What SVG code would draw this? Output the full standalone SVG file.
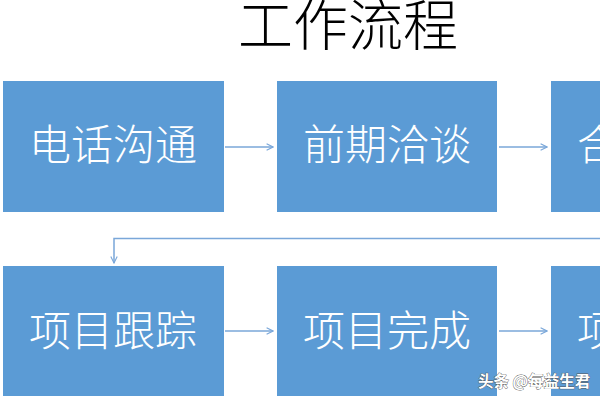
<svg xmlns="http://www.w3.org/2000/svg" width="600" height="400" viewBox="0 0 600 400">
<style>
.box{fill:#5B9BD5;}
.lbl{font-family:"Noto Sans CJK SC","Noto Sans",sans-serif;font-size:42px;font-weight:300;fill:#ffffff;}
.title{font-family:"Noto Sans CJK SC","Noto Sans",sans-serif;font-size:55px;font-weight:300;fill:#000000;}
.conn{fill:none;stroke:#7AA7D9;stroke-width:1.5;}
.wm{font-family:"Noto Sans CJK SC","Noto Sans",sans-serif;font-size:15.5px;font-weight:700;fill:#ffffff;stroke:#555555;stroke-width:0.8;paint-order:stroke;}
</style>
<defs>
<marker id="arr" viewBox="0 0 10 10" refX="9" refY="5" markerWidth="8" markerHeight="8" markerUnits="userSpaceOnUse" orient="auto">
<polyline points="1,1 9,5 1,9" fill="none" stroke="#7AA7D9" stroke-width="1.4"/>
</marker>
</defs>
<rect width="600" height="400" fill="#ffffff"/>
<text class="title" x="348" y="45" text-anchor="middle">工作流程</text>
<g id="n1"><rect class="box" x="3" y="81" width="221" height="131"/><text class="lbl" x="113" y="160" text-anchor="middle">电话沟通</text></g>
<g id="n2"><rect class="box" x="277" y="81" width="220" height="131"/><text class="lbl" x="387" y="160" text-anchor="middle">前期洽谈</text></g>
<g id="n3"><rect class="box" x="551" y="81" width="220" height="131"/><text class="lbl" x="577" y="160">合</text></g>
<g id="n4"><rect class="box" x="3" y="266" width="221" height="130"/><text class="lbl" x="113" y="346" text-anchor="middle">项目跟踪</text></g>
<g id="n5"><rect class="box" x="277" y="266" width="220" height="130"/><text class="lbl" x="387" y="346" text-anchor="middle">项目完成</text></g>
<g id="n6"><rect class="box" x="551" y="266" width="220" height="130"/><text class="lbl" x="577" y="346">项</text></g>
<g id="connectors">
<line class="conn" x1="225" y1="147" x2="273" y2="147" marker-end="url(#arr)"/>
<line class="conn" x1="499" y1="147" x2="547" y2="147" marker-end="url(#arr)"/>
<path class="conn" d="M661,212 V238.5 H114 V263" marker-end="url(#arr)"/>
<line class="conn" x1="225" y1="331" x2="273" y2="331" marker-end="url(#arr)"/>
<line class="conn" x1="499" y1="331" x2="547" y2="331" marker-end="url(#arr)"/>
</g>
<text class="wm" x="478" y="387">头条 @每益生君</text>
</svg>
